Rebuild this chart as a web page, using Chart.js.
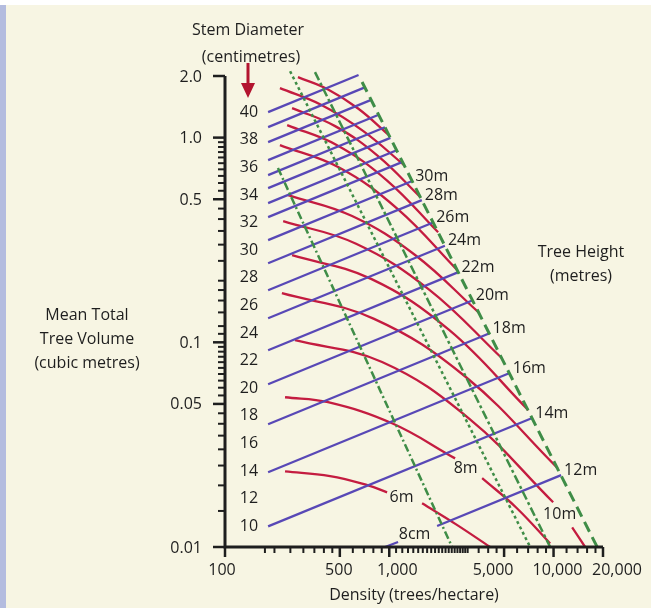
<!DOCTYPE html>
<html>
<head>
<meta charset="utf-8">
<title>Stand density diagram</title>
<script src="https://cdn.jsdelivr.net/npm/chart.js@4.4.1/dist/chart.umd.min.js"></script>
<style>
  html, body { margin: 0; padding: 0; background: #fff; }
  #frame { position: relative; width: 651px; height: 608px; background: #f7f5e3; }
  #frame::before { content: ""; position: absolute; left: 0; top: 0; width: 651px; height: 5px; background: #fff; }
  #frame::after { content: ""; position: absolute; left: 0; top: 5px; width: 6px; bottom: 0; background: #b4bcdf; }
  #chart { position: absolute; left: 0; top: 0; }
</style>
</head>
<body>
<div id="frame"><canvas id="chart" width="651" height="608"></canvas></div>
<script>
// axis ticks
const xMajorTicks = [100, 500, 1000, 5000, 10000, 20000];
const xTickLabels = ["100", "500", "1,000", "5,000", "10,000", "20,000"];
const xMinorTicks = [175, 200, 250, 300, 350, 400, 450, 600, 700, 800, 900,
  1100, 1200, 1300, 1400, 1500, 1600, 1700, 1800, 1900, 2000, 2100, 2200, 2300, 2400,
  2500, 2600, 2700, 2800, 2900, 3000, 3500, 4000, 4500, 6000, 7000, 8000, 9000,
  12000, 14000, 16000, 18000];
const yMajorTicks = [2, 1, 0.5, 0.1, 0.05, 0.01];
const yTickLabels = ["2.0", "1.0", "0.5", "0.1", "0.05", "0.01"];
const yMinorTicks = [0.95, 0.9, 0.85, 0.8, 0.75, 0.7, 0.65, 0.6, 0.55,
  0.45, 0.4, 0.35, 0.3, 0.25, 0.2, 0.18, 0.16, 0.14, 0.12, 0.11,
  0.095, 0.09, 0.085, 0.08, 0.075, 0.07, 0.065, 0.06, 0.055,
  0.045, 0.04, 0.035, 0.03, 0.025, 0.02, 0.015];

// stem diameter scale (left) and diameter lines (blue)
const diamScaleLabels = ["40", "38", "36", "34", "32", "30", "28", "26", "24", "22", "20", "18", "16", "14", "12", "10"];
const diamDensity = [
  [183, 650], [183, 710], [183, 776], [183, 862], [183, 941], [183, 1016], [183, 1110], [183, 1205],
  [183, 1379], [183, 1578], [183, 1849], [183, 2181], [183, 2635], [183, 3225], [183, 4081], [183, 5412], [183, 7420],
  [943, 1131, null, 1955, 11120]
];
const diamVolume = [
  [1.332, 2.023], [1.125, 1.76], [0.951, 1.53], [0.776, 1.294], [0.656, 1.124], [0.5665, 0.9965], [0.4786, 0.868], [0.4088, 0.7614],
  [0.3155, 0.6137], [0.2435, 0.4948], [0.1797, 0.3851], [0.1311, 0.2965], [0.0915, 0.2202], [0.0624, 0.1606], [0.0398, 0.1108], [0.02318, 0.0708], [0.01262, 0.0427],
  [0.01, 0.01058, null, 0.01266, 0.02245]
];
const diamEndLabels = ["", "", "", "", "", "", "", "", "30m", "28m", "26m", "24m", "22m", "20m", "18m", "16m", "14m", "12m"];
const diamGapLabels = ["", "", "", "", "", "", "", "", "", "", "", "", "", "", "", "", "", "8cm"];

// tree height curves (red)
const heightDensity = [
  [278, 424, 646, 994],
  [216, 384, 692, 1231],
  [256, 468, 855, 1547],
  [239, 481, 970, 1983],
  [216, 495, 1131, 2595],
  [242, 594, 1436, 3499],
  [226, 628, 1748, 4851],
  [256, 775, 2313, 7023],
  [222, 808, 2936, 10590],
  [267, 904, 3062, 9945, null, 12980, 15570],
  [232, 424, 1040, 2516, null, 3675, 5919, 9535],
  [232, 436, 743, 970, null, 1584, 2552, 4111]
];
const heightVolume = [
  [1.975, 1.719, 1.387, 1.029],
  [1.745, 1.448, 1.079, 0.734],
  [1.394, 1.138, 0.812, 0.512],
  [1.151, 0.918, 0.617, 0.345],
  [0.919, 0.714, 0.446, 0.225],
  [0.524, 0.414, 0.267, 0.14],
  [0.391, 0.303, 0.181, 0.0836],
  [0.2665, 0.2041, 0.1149, 0.0466],
  [0.1738, 0.1302, 0.0675, 0.0243],
  [0.1024, 0.0801, 0.0424, 0.01654, null, 0.01248, 0.01],
  [0.0539, 0.051, 0.0402, 0.0271, null, 0.0217, 0.0156, 0.0104],
  [0.0234, 0.0222, 0.02, 0.0185, null, 0.01635, 0.0129, 0.01]
];
const heightGapLabels = ["", "", "", "", "", "", "", "", "", "10m", "8m", "6m"];

// density limit lines (green)
const limitDensity = [[210, 2413], [249, 7203], [353, 9535], [683, 18430]];
const limitVolume = [[0.71, 0.01], [2.11, 0.01], [2.09, 0.01], [1.87, 0.01]];

const ink = "#1e1e1e";
const blue = "#5848b6";
const red = "#c41c40";
const green = "#3f8d47";
const limitDash = [[8, 3, 2, 3], [3, 3], [9, 3, 3, 3], [11, 6]];
const limitWidth = [2.5, 2.5, 2.5, 3];
const font = '16px "Open Sans"';

function points(dens, vols) {
  return dens.map((d, i) => (d === null ? { x: null, y: null } : { x: d, y: vols[i] }));
}

const common = { showLine: true, pointRadius: 0, fill: false, clip: false, spanGaps: false };
const datasets = [];
limitDensity.forEach((d, i) => {
  datasets.push({ ...common, data: points(d, limitVolume[i]), borderColor: green, borderWidth: limitWidth[i], borderDash: limitDash[i], order: 0 });
});
diamDensity.forEach((d, i) => {
  datasets.push({ ...common, data: points(d, diamVolume[i]), borderColor: blue, borderWidth: 2.3, order: 1 });
});
heightDensity.forEach((d, i) => {
  datasets.push({ ...common, data: points(d, heightVolume[i]), borderColor: red, borderWidth: 2.3, tension: 0.4, order: 2 });
});

function gapLabel(ctx, x, y, dens, vols, label) {
  const k = dens.indexOf(null);
  if (!label || k < 0) return;
  const x0 = x.getPixelForValue(dens[k - 1]), y0 = y.getPixelForValue(vols[k - 1]);
  const x1 = x.getPixelForValue(dens[k + 1]), y1 = y.getPixelForValue(vols[k + 1]);
  ctx.textAlign = "center";
  ctx.fillText(label, (x0 + x1) / 2 - 3, (y0 + y1) / 2);
}

const decorations = {
  id: "decorations",
  afterDraw(chart) {
    const { ctx, chartArea: a, scales: { x, y } } = chart;
    ctx.save();
    ctx.strokeStyle = ink;
    ctx.fillStyle = ink;

    // axis lines
    ctx.lineWidth = 3;
    ctx.beginPath();
    ctx.moveTo(a.left, a.top);
    ctx.lineTo(a.left, a.bottom);
    ctx.lineTo(a.right, a.bottom);
    ctx.stroke();

    // tick marks
    ctx.lineWidth = 2.5;
    yMajorTicks.forEach(v => {
      const p = y.getPixelForValue(v);
      ctx.beginPath(); ctx.moveTo(a.left - 12, p); ctx.lineTo(a.left, p); ctx.stroke();
    });
    xMajorTicks.forEach(v => {
      const p = x.getPixelForValue(v);
      ctx.beginPath(); ctx.moveTo(p, a.bottom); ctx.lineTo(p, a.bottom + 10); ctx.stroke();
    });
    ctx.lineWidth = 2;
    yMinorTicks.forEach(v => {
      const p = y.getPixelForValue(v);
      ctx.beginPath(); ctx.moveTo(a.left - 7, p); ctx.lineTo(a.left, p); ctx.stroke();
    });
    xMinorTicks.forEach(v => {
      const p = x.getPixelForValue(v);
      ctx.beginPath(); ctx.moveTo(p, a.bottom); ctx.lineTo(p, a.bottom + 6); ctx.stroke();
    });

    ctx.font = font;
    ctx.textBaseline = "middle";

    // tick labels
    ctx.textAlign = "right";
    yMajorTicks.forEach((v, i) => ctx.fillText(yTickLabels[i], a.left - 23, y.getPixelForValue(v) + 1));
    const shift = [-3, -1, 8, -11, 4, 14];
    ctx.textAlign = "center";
    xMajorTicks.forEach((v, i) => ctx.fillText(xTickLabels[i], x.getPixelForValue(v) + shift[i], a.bottom + 23));

    // stem diameter scale
    const top = y.getPixelForValue(diamVolume[0][0]);
    const bot = y.getPixelForValue(diamVolume[diamScaleLabels.length][0]);
    diamScaleLabels.forEach((s, i) => {
      ctx.fillText(s, a.left + 24, top + (bot - top) * i / (diamScaleLabels.length - 1));
    });

    // labels at the ends of the diameter lines
    ctx.textAlign = "left";
    diamEndLabels.forEach((s, i) => {
      if (!s) return;
      const d = diamDensity[i], v = diamVolume[i];
      ctx.fillText(s, x.getPixelForValue(d[d.length - 1]) + 3, y.getPixelForValue(v[v.length - 1]) - 5);
    });
    diamGapLabels.forEach((s, i) => gapLabel(ctx, x, y, diamDensity[i], diamVolume[i], s));
    heightGapLabels.forEach((s, i) => gapLabel(ctx, x, y, heightDensity[i], heightVolume[i], s));

    // titles
    ctx.textAlign = "center";
    ctx.fillText("Stem Diameter", a.left + 23, a.top - 46);
    ctx.fillText("(centimetres)", a.left + 26, a.top - 19);
    ctx.fillText("Tree Height", a.right - 22, a.top + 176);
    ctx.fillText("(metres)", a.right - 22, a.top + 200);
    ctx.fillText("Mean Total", a.left - 138, a.top + 239);
    ctx.fillText("Tree Volume", a.left - 138, a.top + 263);
    ctx.fillText("(cubic metres)", a.left - 138, a.top + 287);
    ctx.fillText("Density (trees/hectare)", (a.left + a.right) / 2, a.bottom + 48);

    // red arrow under the diameter title
    const ax = a.left + 23, ay = a.top - 13;
    ctx.fillStyle = "#b3142f";
    ctx.fillRect(ax - 1.5, ay, 3, 22);
    ctx.beginPath();
    ctx.moveTo(ax - 7, ay + 20);
    ctx.lineTo(ax + 7, ay + 20);
    ctx.lineTo(ax, ay + 35);
    ctx.closePath();
    ctx.fill();
    ctx.restore();
  }
};

new Chart(document.getElementById("chart"), {
  type: "scatter",
  data: { datasets },
  options: {
    responsive: false,
    animation: false,
    events: [],
    layout: { padding: { left: 225, top: 76, right: 48, bottom: 61 } },
    scales: {
      x: { type: "logarithmic", min: 100, max: 20000, display: false },
      y: { type: "logarithmic", min: 0.01, max: 2, display: false }
    },
    plugins: { legend: { display: false }, tooltip: { enabled: false } }
  },
  plugins: [decorations]
});
</script>
</body>
</html>
